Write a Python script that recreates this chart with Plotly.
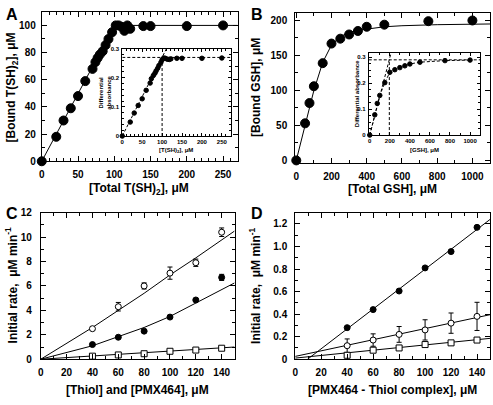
import plotly.graph_objects as go

W, H = 493, 405
FONT = "Liberation Sans, Arial, sans-serif"

# ---------------- data ----------------
# Panel A main
a_total = [0, 20, 30, 40, 50, 60, 70, 74, 77, 80, 84, 88, 92, 97, 102, 106, 110, 114, 118, 122, 140, 150, 200, 250]
a_bound = [0, 18, 30, 39, 48, 59, 68, 73, 76, 78.5, 81, 85.5, 90, 95, 100, 100, 99, 96, 100, 97.5, 99.5, 99.5, 99.5, 100]
a_fit_x = [0, 95, 100, 105, 110, 270]
a_fit_y = [0, 94.5, 98, 99.5, 100, 100]
# Panel A inset
ai_x = [0, 20, 30, 40, 50, 60, 70, 73, 78, 82, 85, 89, 92, 97, 100, 104, 108, 113, 118, 122, 137, 150, 200, 250]
ai_abs = [0, 0.048, 0.079, 0.105, 0.128, 0.157, 0.182, 0.197, 0.208, 0.216, 0.224, 0.233, 0.242, 0.253, 0.262,
          0.268, 0.267, 0.264, 0.263, 0.265, 0.267, 0.267, 0.267, 0.268]
ai_slope_x = [0, 111]
ai_slope_y = [0, 0.3]
ai_plateau = 0.27
ai_break = 100

# Panel B main
b_total = [0, 50, 75, 100, 150, 200, 250, 300, 350, 400, 500, 750, 1000]
b_bound = [0, 53, 82, 106, 139, 167, 174, 180, 185, 191, 194, 199, 200]
b_fit_x = [0, 50, 100, 150, 200, 250, 300, 350, 400, 500, 600, 800, 1100]
b_fit_y = [0, 51, 100, 140, 165, 177, 183, 186, 188, 191, 192.5, 194, 195]
# Panel B inset
bi_x = [0, 50, 75, 100, 150, 200, 250, 300, 350, 400, 500, 750, 1000]
bi_abs = [0, 0.078, 0.122, 0.153, 0.202, 0.242, 0.252, 0.26, 0.267, 0.274, 0.281, 0.287, 0.289]
bi_slope_x = [0, 213]
bi_slope_y = [0, 0.318]
bi_plateau = 0.29
bi_break = 195

# Panel C
c_x = [40, 60, 80, 100, 120, 140]
c_open = [2.5, 4.3, 6.0, 7.05, 7.9, 10.4]
c_open_err = [0.15, 0.35, 0.25, 0.5, 0.3, 0.35]
c_filled = [1.2, 1.8, 2.3, 3.45, 4.85, 6.7]
c_filled_err = [0.05, 0.05, 0.08, 0.1, 0.12, 0.25]
c_square = [0.25, 0.35, 0.45, 0.65, 0.75, 0.9]
c_fit_x = [0, 40, 80, 100, 120, 150]
c_fit_open = [0, 2.6, 5.4, 6.9, 8.3, 10.5]
c_fit_filled = [0, 1.1, 2.6, 3.5, 4.6, 6.25]
c_fit_square = [0, 0.27, 0.53, 0.67, 0.8, 1.0]

# Panel D
d_x = [40, 60, 80, 100, 120, 140]
d_filled = [0.28, 0.44, 0.605, 0.81, 0.955, 1.17]
d_open = [0.12, 0.17, 0.22, 0.26, 0.32, 0.38]
d_open_err = [0.06, 0.055, 0.07, 0.09, 0.09, 0.125]
d_square = [0.035, 0.08, 0.1, 0.13, 0.145, 0.17]
d_fit_filled_x = [9.5, 150]
d_fit_filled_y = [0, 1.24]
d_fit_x = [0, 150]
d_fit_open = [0.025, 0.395]
d_fit_square = [0.01, 0.185]

# ---------------- helpers ----------------
def fx(px):
    return px / W

def fy(py):
    return 1 - py / H

def axis(dom, rng, dtick, minor, anchor, size=10, tl=5, ml=3, so=0, **kw):
    d = dict(domain=dom, range=rng, dtick=dtick, tick0=0, ticks="inside", ticklen=tl, tickwidth=1,
             tickcolor="black", showline=True, linecolor="black", linewidth=1, mirror="ticks",
             showgrid=False, zeroline=False, anchor=anchor, ticklabelstandoff=so,
             tickfont=dict(size=size, family=FONT, color="black", weight="bold"),
             minor=dict(dtick=minor, ticks="inside", ticklen=ml, tickcolor="black", tickwidth=1, showgrid=False))
    d.update(kw)
    return d

fig = go.Figure()
BL = dict(color="black", width=1)
DASH = dict(color="black", width=1, dash="3px,2px")

def line(x, y, xa, ya, style=BL):
    fig.add_trace(go.Scatter(x=x, y=y, mode="lines", line=style, xaxis=xa, yaxis=ya,
                             showlegend=False, hoverinfo="skip"))

def pts(x, y, xa, ya, size, filled=True, symbol="circle", err=None):
    m = dict(size=size, symbol=symbol, color="black" if filled else "white",
             line=dict(color="black", width=1))
    kw = {}
    if err is not None:
        kw["error_y"] = dict(type="data", array=err, visible=True, color="black", thickness=1, width=2.5)
    fig.add_trace(go.Scatter(x=x, y=y, mode="markers", marker=m, xaxis=xa, yaxis=ya,
                             showlegend=False, cliponaxis=False, **kw))

# A
line(a_fit_x, a_fit_y, "x", "y")
pts(a_total, a_bound, "x", "y", 9)
# A inset
line(ai_slope_x, ai_slope_y, "x5", "y5", DASH)
line([0, 272], [ai_plateau, ai_plateau], "x5", "y5", DASH)
line([ai_break, ai_break], [0, ai_plateau], "x5", "y5", DASH)
pts(ai_x, ai_abs, "x5", "y5", 4.5)

# B
line(b_fit_x, b_fit_y, "x2", "y2")
pts(b_total, b_bound, "x2", "y2", 9)
# B inset
line(bi_slope_x, bi_slope_y, "x6", "y6", DASH)
line([-10, 1100], [bi_plateau, bi_plateau], "x6", "y6", DASH)
line([bi_break, bi_break], [0, bi_plateau], "x6", "y6", DASH)
line(bi_x, bi_abs, "x6", "y6", DASH)
pts(bi_x, bi_abs, "x6", "y6", 4.5)

# C
line(c_fit_x, c_fit_open, "x3", "y3")
line(c_fit_x, c_fit_filled, "x3", "y3")
line(c_fit_x, c_fit_square, "x3", "y3")
pts(c_x, c_open, "x3", "y3", 6, filled=False, err=c_open_err)
pts(c_x, c_filled, "x3", "y3", 6, err=c_filled_err)
pts(c_x, c_square, "x3", "y3", 6, filled=False, symbol="square")

# D
line(d_fit_filled_x, d_fit_filled_y, "x4", "y4")
line(d_fit_x, d_fit_open, "x4", "y4")
line(d_fit_x, d_fit_square, "x4", "y4")
pts(d_x, d_filled, "x4", "y4", 6)
pts(d_x, d_open, "x4", "y4", 6, filled=False, err=d_open_err)
pts(d_x, d_square, "x4", "y4", 6, filled=False, symbol="square")

# ---------------- layout ----------------
inset_ticks_y = [0, 0.1, 0.2, 0.3]
inset_ticks_y_text = ["0", "0.1", "0.2", "0.3"]
d_ticks_y = [0, 0.2, 0.4, 0.6, 0.8, 1.0, 1.2]
d_ticks_y_text = ["0", "0.2", "0.4", "0.6", "0.8", "1.0", "1.2"]

fig.update_layout(
    width=W, height=H, margin=dict(l=0, r=0, t=0, b=0),
    paper_bgcolor="white", plot_bgcolor="white",
    font=dict(family=FONT, color="black"),
    xaxis=axis([fx(39), fx(236)], [0, 270], 50, 10, "y", so=4),
    yaxis=axis([fy(160), fy(6)], [0, 110], 20, 10, "x", so=3),
    xaxis2=axis([fx(294), fx(490)], [-6, 1100], 200, 100, "y2", so=4),
    yaxis2=axis([fy(162), fy(7)], [-4, 211], 50, 25, "x2", so=5),
    xaxis3=axis([fx(38), fx(233)], [0, 150], 20, 10, "y3", so=4),
    yaxis3=axis([fy(364), fy(213)], [0, 12], 2, 1, "x3", so=6),
    xaxis4=axis([fx(294), fx(490)], [0, 150], 20, 10, "y4", so=4),
    yaxis4=axis([fy(364), fy(213)], [0, 1.3], 0.2, 0.1, "x4", so=5,
                tickmode="array", tickvals=d_ticks_y, ticktext=d_ticks_y_text),
    xaxis5=axis([fx(120), fx(229)], [0, 272], 50, 10, "y5", size=6, tl=3, ml=2, so=0),
    yaxis5=axis([fy(134), fy(44)], [0, 0.3], 0.1, 0.02, "x5", size=6, tl=3, ml=2, so=1,
                tickmode="array", tickvals=inset_ticks_y, ticktext=inset_ticks_y_text),
    xaxis6=axis([fx(368), fx(480)], [-10, 1100], 200, 100, "y6", size=6, tl=3, ml=2, so=0),
    yaxis6=axis([fy(133), fy(48)], [0, 0.318], 0.1, 0.025, "x6", size=6, tl=3, ml=2, so=1,
                tickmode="array", tickvals=inset_ticks_y, ticktext=inset_ticks_y_text),
)

def text(t, x, y, size, angle=0, xanchor="center", yanchor="middle"):
    fig.add_annotation(text=t, x=fx(x), y=fy(y), xref="paper", yref="paper", showarrow=False,
                       textangle=angle, xanchor=xanchor, yanchor=yanchor,
                       font=dict(size=size, family=FONT, color="black", weight="bold"))

# panel letters
text("A", 1, 9, 16, xanchor="left")
text("B", 248, 9, 16, xanchor="left")
text("C", 1, 214, 16, xanchor="left")
text("D", 248, 214, 16, xanchor="left")

# axis titles
text("[Total T(SH)<sub>2</sub>], μM", 137, 189, 12)
text("[Bound T(SH)<sub>2</sub>], μM", 9, 84, 12, angle=-90)
text("[Total GSH], μM", 392, 189, 12)
text("[Bound GSH], μM", 254, 84, 12, angle=-90)
text("[Thiol] and [PMX464], μM", 135, 396, 12)
text("Initial rate,  μM min<sup>-1</sup>", 9, 288, 12, angle=-90)
text("[PMX464 - Thiol complex], μM", 392, 396, 12)
text("Initial rate,  μM min<sup>-1</sup>", 254, 288, 12, angle=-90)

# inset titles
text("[T(SH)<sub>2</sub>], μM", 174, 148.5, 6)
text("Differential<br>absorbance", 103, 89, 6, angle=-90)
text("[GSH], μM", 424, 148, 6)
text("Differential absorbance", 356, 90, 6, angle=-90)

fig.write_html("out.html", config={"displayModeBar": False},
               post_script="document.body.style.margin='0';document.body.style.overflow='hidden';")
